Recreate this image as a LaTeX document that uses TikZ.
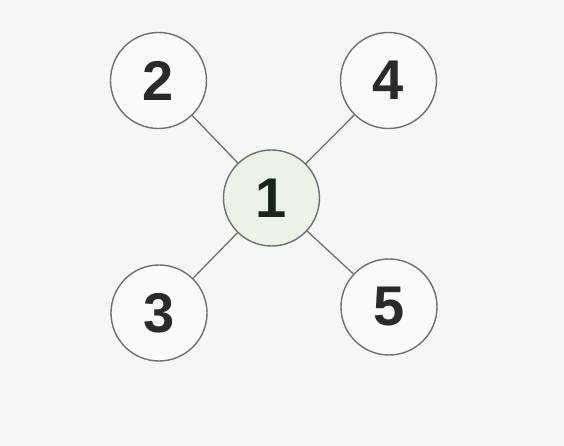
\documentclass[tikz,border=0pt]{standalone}
\usepackage{fontspec}
\setmainfont{Liberation Sans}
\definecolor{bgc}{HTML}{F6F6F6}
\definecolor{edgec}{HTML}{707070}
\definecolor{numc}{HTML}{2A2A2A}
\definecolor{greenc}{HTML}{EAF3E6}
\begin{document}
\begin{tikzpicture}[x=1pt,y=1pt,
  vert/.style={circle,draw=edgec,line width=1.4pt,fill=white!50!bgc,minimum size=96pt,inner sep=0pt,
    font=\fontsize{56}{56}\selectfont\bfseries,text=numc},
  link/.style={draw=edgec,line width=1.3pt}]
\fill[bgc] (0,0) rectangle (564,446);
\useasboundingbox (0,0) rectangle (564,446);
\node[vert,fill=greenc,text=numc!90!green!60!black] (n1) at (271.5,248) {1};
\node[vert] (n2) at (158.5,365.5) {2};
\node[vert] (n4) at (388.5,365.5) {4};
\node[vert] (n3) at (159,133) {3};
\node[vert] (n5) at (389,139) {5};
\draw[link] (n1) -- (n2);
\draw[link] (n1) -- (n4);
\draw[link] (n1) -- (n3);
\draw[link] (n1) -- (n5);
\end{tikzpicture}
\end{document}
